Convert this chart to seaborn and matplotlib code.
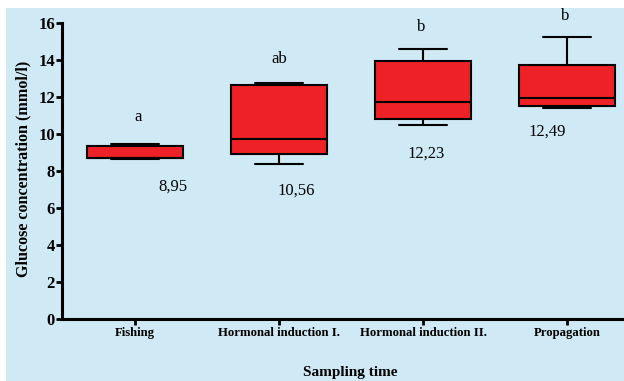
import numpy as np
import pandas as pd
import matplotlib
matplotlib.use("Agg")
import matplotlib.pyplot as plt
from matplotlib.patches import Rectangle
import seaborn as sns

# Five-number summaries (min, Q1, median, Q3, max) of glucose, mmol/l
stages = ["Fishing", "Hormonal induction I.", "Hormonal induction II.", "Propagation"]
fishing = [8.64, 8.71, 8.72, 9.36, 9.46]
induction_1 = [8.39, 8.95, 9.72, 12.68, 12.77]
induction_2 = [10.50, 10.84, 11.72, 13.94, 14.62]
propagation = [11.42, 11.54, 11.94, 13.76, 15.27]

# Group means and significance letters
means = [8.95, 10.56, 12.23, 12.49]
letters = ["a", "ab", "b", "b"]

BG = "#cfe9f5"
RED = "#ee2226"

sns.set_theme(style="ticks")
plt.rcParams["font.family"] = ["Liberation Serif", "DejaVu Serif"]
plt.rcParams["text.color"] = "black"
plt.rcParams["axes.labelcolor"] = "black"

df = pd.DataFrame({
    "stage": np.repeat(stages, 5),
    "glucose": np.concatenate([fishing, induction_1, induction_2, propagation]),
})

fig = plt.figure(figsize=(6.24, 3.81), dpi=100)
fig.patch.set_facecolor("white")
fig.patches.append(Rectangle((6 / 624, 0), 1, 1 - 8 / 381, transform=fig.transFigure,
                             facecolor=BG, edgecolor="none", zorder=-10))
ax = fig.add_axes([62 / 624, 1 - 319 / 381, 1 - 62 / 624, (319 - 23.3) / 381])
ax.set_facecolor(BG)

sns.boxplot(data=df, x="stage", y="glucose", order=stages, ax=ax,
            color=RED, saturation=1, width=0.667, whis=np.inf,
            linewidth=1.5, linecolor="black", fliersize=0)

ax.set_xlim(-0.507, 3.396)
ax.set_ylim(0, 16)
ax.set_yticks(range(0, 17, 2))
sns.despine(ax=ax)
for s in ("left", "bottom"):
    ax.spines[s].set_linewidth(2.2)
    ax.spines[s].set_color("black")
ax.tick_params(axis="both", direction="out", length=4.5, width=2, color="black",
               labelcolor="black")
ax.tick_params(axis="y", pad=0.5)
ax.tick_params(axis="x", pad=1.5)
for lab in ax.get_yticklabels():
    lab.set_fontsize(12)
    lab.set_fontweight("bold")
for lab in ax.get_xticklabels():
    lab.set_fontsize(9.2)
    lab.set_fontweight("bold")

ax.set_xlabel("Sampling time", fontsize=11, fontweight="bold")
ax.xaxis.set_label_coords((350 - 62) / (624 - 62), (319 - 366) / (319 - 23.3))
ax.set_ylabel("Glucose concentration (mmol/l)", fontsize=11.6, fontweight="bold")
ax.yaxis.set_label_coords((31 - 62) / (624 - 62), (319 - 169) / (319 - 23.3))

# Significance letters above the boxes
letter_pos = [(0.02, 10.93), (1.0, 14.06), (1.99, 15.8), (2.99, 16.42)]
for (x, y), t in zip(letter_pos, letters):
    ax.text(x, y, t, ha="center", va="center", fontsize=12, color="black", clip_on=False)

# Mean values next to the boxes
mean_pos = [(0.266, 7.15), (1.118, 6.95), (2.02, 8.93), (2.86, 10.12)]
for (x, y), m in zip(mean_pos, means):
    ax.text(x, y, f"{m:.2f}".replace(".", ","), ha="center", va="center",
            fontsize=12, color="black")

fig.savefig("out.png", dpi=100, facecolor=fig.get_facecolor())
